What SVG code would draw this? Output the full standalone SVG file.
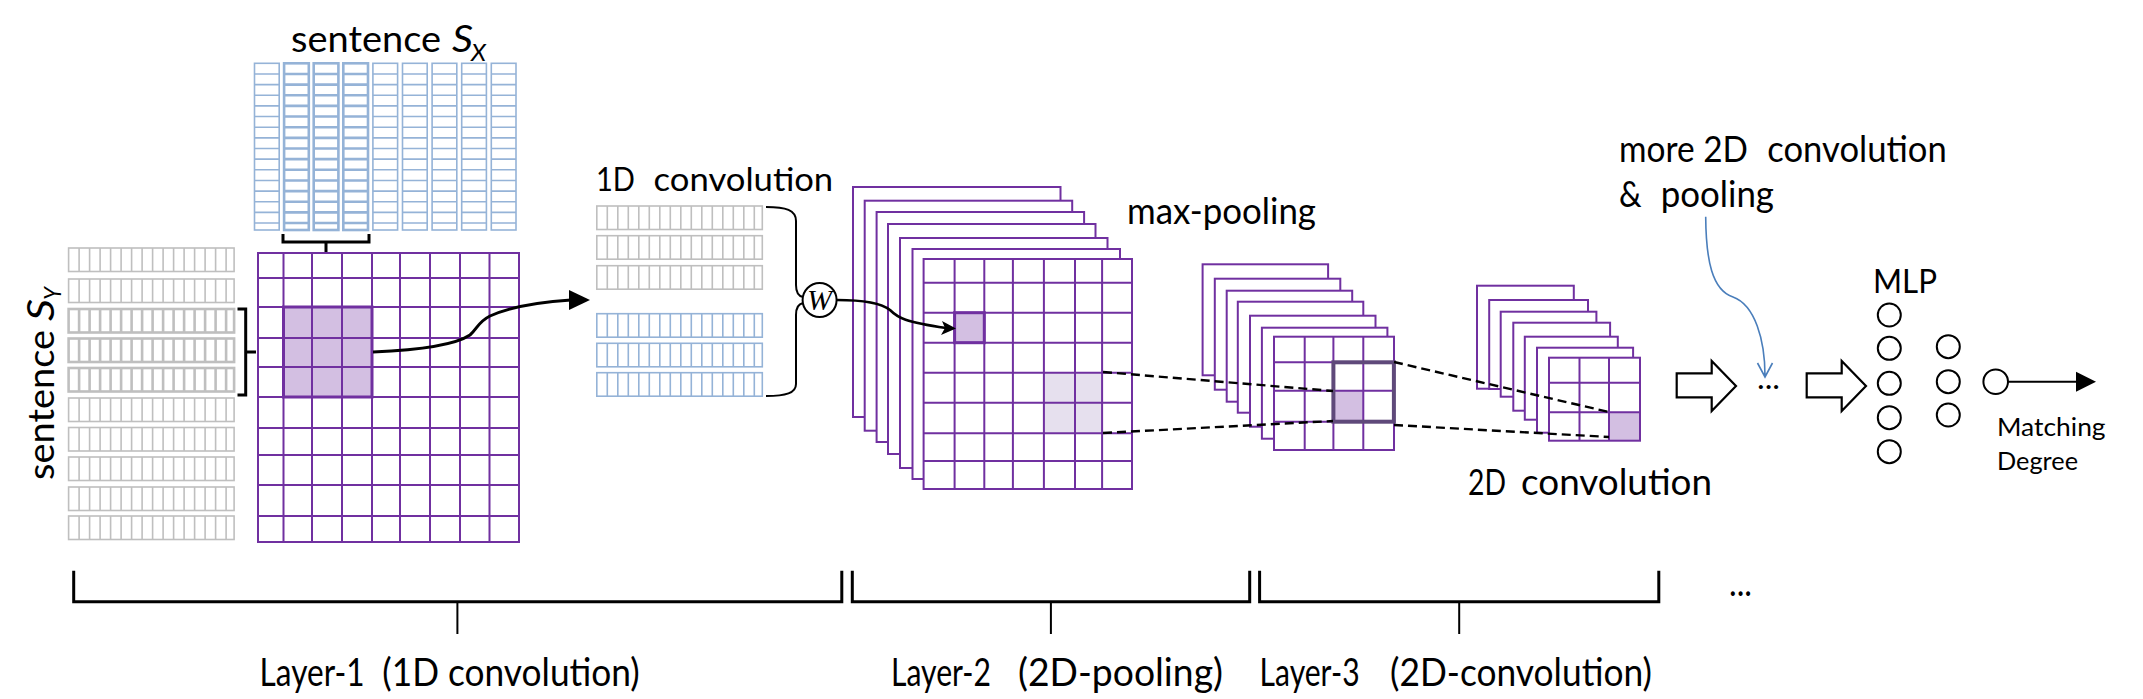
<svg xmlns="http://www.w3.org/2000/svg" xmlns:xlink="http://www.w3.org/1999/xlink" width="2143" height="699" viewBox="0 0 2143 699">
<style>
.t{font-family:Lato,"Open Sans","Liberation Sans",sans-serif;fill:#000}
.it{font-style:italic}
.pu{fill:none;stroke:#7030A0;stroke-width:2}
.puw{fill:#fff;stroke:#7030A0;stroke-width:2}
.bl{fill:none;stroke:#95B3D7;stroke-width:1.6}
.blh{fill:none;stroke:#95B3D7;stroke-width:2.6}
.gr{fill:none;stroke:#BFBFBF;stroke-width:1.6}
.grh{fill:none;stroke:#BFBFBF;stroke-width:2.6}
.blk{fill:none;stroke:#000;stroke-width:3}
.thin{fill:none;stroke:#000;stroke-width:2}
.dash{fill:none;stroke:#000;stroke-width:2.4;stroke-dasharray:9 5}
.hl{fill:#D3BFE2}
.hl2{fill:#E6E0EE}
.blockarrow{fill:#fff;stroke:#000;stroke-width:2.2}
.node{fill:#fff;stroke:#000;stroke-width:2}
</style>
<defs>
<g id="bcol"><rect x="0" y="0" width="24.7" height="166.7"/><path d="M0,10.65H24.7M0,21.3H24.7M0,31.95H24.7M0,42.6H24.7M0,53.25H24.7M0,63.9H24.7M0,74.55H24.7M0,85.2H24.7M0,95.85H24.7M0,106.5H24.7M0,117.15H24.7M0,127.8H24.7M0,138.45H24.7M0,149.1H24.7M0,159.75H24.7"/></g>
<g id="row"><rect x="0" y="0" width="165.5" height="23.5"/><path d="M10.5,0V23.5M21,0V23.5M31.5,0V23.5M42,0V23.5M52.5,0V23.5M63,0V23.5M73.5,0V23.5M84,0V23.5M94.5,0V23.5M105,0V23.5M115.5,0V23.5M126,0V23.5M136.5,0V23.5M147,0V23.5M157.5,0V23.5"/></g>
</defs>

<g id="sentence-x">
<text class="t" x="291" y="52" font-size="36" textLength="150" lengthAdjust="spacingAndGlyphs">sentence</text>
<text class="t it" x="452" y="52" font-size="36" textLength="21" lengthAdjust="spacingAndGlyphs">S</text>
<text class="t it" x="471" y="61" font-size="23" textLength="15" lengthAdjust="spacingAndGlyphs">X</text>
<use xlink:href="#bcol" class="bl" x="254.5" y="63.3"/>
<use xlink:href="#bcol" class="blh" x="284.1" y="63.3"/>
<use xlink:href="#bcol" class="blh" x="313.7" y="63.3"/>
<use xlink:href="#bcol" class="blh" x="343.3" y="63.3"/>
<use xlink:href="#bcol" class="bl" x="372.9" y="63.3"/>
<use xlink:href="#bcol" class="bl" x="402.5" y="63.3"/>
<use xlink:href="#bcol" class="bl" x="432.1" y="63.3"/>
<use xlink:href="#bcol" class="bl" x="461.7" y="63.3"/>
<use xlink:href="#bcol" class="bl" x="491.3" y="63.3"/>
<path class="blk" d="M283,234V242H369V234M326,242V252"/>
</g>

<g id="sentence-y">
<g transform="translate(53.6,480) rotate(-90)">
<text class="t" x="0" y="0" font-size="36" textLength="150" lengthAdjust="spacingAndGlyphs">sentence</text>
<text class="t it" x="159" y="0" font-size="36" textLength="22" lengthAdjust="spacingAndGlyphs">S</text>
<text class="t it" x="180" y="7" font-size="23" textLength="13" lengthAdjust="spacingAndGlyphs">Y</text>
</g>
<use xlink:href="#row" class="gr" x="68.6" y="248"/>
<use xlink:href="#row" class="gr" x="68.6" y="279"/>
<use xlink:href="#row" class="grh" x="68.6" y="309"/>
<use xlink:href="#row" class="grh" x="68.6" y="338.5"/>
<use xlink:href="#row" class="grh" x="68.6" y="368"/>
<use xlink:href="#row" class="gr" x="68.6" y="398"/>
<use xlink:href="#row" class="gr" x="68.6" y="427.5"/>
<use xlink:href="#row" class="gr" x="68.6" y="457"/>
<use xlink:href="#row" class="gr" x="68.6" y="487"/>
<use xlink:href="#row" class="gr" x="68.6" y="516"/>
<path class="blk" d="M237.5,309H245.7V395H237.5M245.7,352H256"/>
</g>

<g id="layer1-matrix">
<rect class="hl" x="283.5" y="307" width="88.5" height="90"/>
<rect class="pu" x="258" y="253" width="261" height="289"/>
<path class="pu" d="M283.5,253V542M312,253V542M342,253V542M372,253V542M400,253V542M430,253V542M460,253V542M489.5,253V542M258,278H519M258,307H519M258,338H519M258,367H519M258,397H519M258,428H519M258,455H519M258,485H519M258,516H519"/>
<rect x="283.5" y="307" width="88.5" height="90" fill="none" stroke="#7030A0" stroke-width="3"/>
</g>

<g id="conv1d">
<text class="t" x="596" y="190.7" font-size="33" textLength="39" lengthAdjust="spacingAndGlyphs">1D</text>
<text class="t" x="653.6" y="190.7" font-size="33" textLength="179.6" lengthAdjust="spacingAndGlyphs">convolution</text>
<use xlink:href="#row" class="gr" x="596.8" y="206"/>
<use xlink:href="#row" class="gr" x="596.8" y="235.7"/>
<use xlink:href="#row" class="gr" x="596.8" y="265.7"/>
<use xlink:href="#row" class="bl" x="596.8" y="313.7"/>
<use xlink:href="#row" class="bl" x="596.8" y="343.3"/>
<use xlink:href="#row" class="bl" x="596.8" y="372.7"/>
<path class="thin" d="M766,207C786,207 796,210 796,221V285C796,292 798,296 803,297M803,303C798,304 796,308 796,315V384C796,393 786,396 766,396"/>
</g>

<g id="weight-w">
<circle class="node" cx="819.6" cy="300" r="17"/>
<text x="819.6" y="310" font-family="'Liberation Serif',serif" font-style="italic" font-size="30" text-anchor="middle">W</text>
</g>

<g id="layer2-maps">
<rect class="puw" x="853" y="187" width="207.5" height="230"/>
<rect class="puw" x="864.7" y="200.7" width="207.5" height="230"/>
<rect class="puw" x="876.6" y="212" width="207.5" height="230"/>
<rect class="puw" x="888" y="224" width="207.5" height="230"/>
<rect class="puw" x="900" y="238" width="207.5" height="230"/>
<rect class="puw" x="912.5" y="249" width="207.5" height="230"/>
<rect fill="#fff" x="923.6" y="259" width="208.4" height="230"/>
<rect class="hl" x="954.6" y="312.7" width="29.7" height="30"/>
<rect class="hl2" x="1043.9" y="372.7" width="58.2" height="60.6"/>
<rect class="pu" x="923.6" y="259" width="208.4" height="230"/>
<path class="pu" d="M954.6,259V489M984.3,259V489M1012.9,259V489M1043.9,259V489M1075,259V489M1102.1,259V489M923.6,282.7H1132M923.6,312.7H1132M923.6,342.7H1132M923.6,372.7H1132M923.6,402.7H1132M923.6,433.3H1132M923.6,461H1132"/>
<rect x="954.6" y="312.7" width="29.7" height="30" fill="none" stroke="#7030A0" stroke-width="3"/>
<text class="t" x="1127" y="224" font-size="36" textLength="189" lengthAdjust="spacingAndGlyphs">max-pooling</text>
</g>

<g id="layer3-maps">
<rect class="puw" x="1202.6" y="264.3" width="125.5" height="111"/>
<rect class="puw" x="1214.8" y="278.7" width="125.5" height="111"/>
<rect class="puw" x="1226.7" y="290.7" width="125.5" height="111"/>
<rect class="puw" x="1237.8" y="301.7" width="125.5" height="111"/>
<rect class="puw" x="1250" y="315.7" width="125.5" height="111"/>
<rect class="puw" x="1261.9" y="327.7" width="125.5" height="111"/>
<rect fill="#fff" x="1274" y="336.7" width="120" height="113.3"/>
<rect class="hl" x="1333.4" y="390.7" width="29.9" height="31"/>
<rect class="pu" x="1274" y="336.7" width="120" height="113.3"/>
<path class="pu" d="M1304.7,336.7V450M1333.4,336.7V450M1363.3,336.7V450M1274,362.3H1394M1274,390.7H1394M1274,421.7H1394"/>
<rect x="1333.4" y="362.3" width="60.5" height="59.4" fill="none" stroke="#5F497A" stroke-width="4"/>
</g>

<g id="layer4-maps">
<rect class="puw" x="1477" y="285.7" width="96.8" height="103"/>
<rect class="puw" x="1489.2" y="300" width="98.8" height="89"/>
<rect class="puw" x="1500.7" y="311.7" width="95.7" height="85"/>
<rect class="puw" x="1513.3" y="322.7" width="96.8" height="88"/>
<rect class="puw" x="1524.8" y="336.7" width="93" height="83"/>
<rect class="puw" x="1537" y="347.7" width="96.1" height="85"/>
<rect fill="#fff" x="1549" y="357.7" width="91" height="83"/>
<rect class="hl" x="1609" y="412.3" width="31" height="28.4"/>
<rect class="pu" x="1549" y="357.7" width="91" height="83"/>
<path class="pu" d="M1579.5,357.7V440.7M1609,357.7V440.7M1549,382.7H1640M1549,412.3H1640"/>
<text class="t" x="1468" y="495" font-size="36" textLength="38" lengthAdjust="spacingAndGlyphs">2D</text>
<text class="t" x="1521" y="495" font-size="36" textLength="191" lengthAdjust="spacingAndGlyphs">convolution</text>
</g>

<g id="more-note">
<text class="t" x="1619" y="162" font-size="36" textLength="129" lengthAdjust="spacingAndGlyphs">more 2D</text>
<text class="t" x="1767.3" y="162" font-size="36" textLength="179.4" lengthAdjust="spacingAndGlyphs">convolution</text>
<text class="t" x="1619" y="207" font-size="36" textLength="22.6" lengthAdjust="spacingAndGlyphs">&amp;</text>
<text class="t" x="1660.7" y="207" font-size="36" textLength="113.3" lengthAdjust="spacingAndGlyphs">pooling</text>
</g>

<g id="ellipsis-mid">
<text class="t" x="1757" y="389" font-size="30" textLength="23" lengthAdjust="spacingAndGlyphs">...</text>
</g>

<g id="mlp">
<text class="t" x="1873" y="293" font-size="32" textLength="64" lengthAdjust="spacingAndGlyphs">MLP</text>
<circle class="node" cx="1889.3" cy="315" r="11.5"/>
<circle class="node" cx="1889.3" cy="348.3" r="11.5"/>
<circle class="node" cx="1889.3" cy="383.3" r="11.5"/>
<circle class="node" cx="1889.3" cy="417.7" r="11.5"/>
<circle class="node" cx="1889.3" cy="451.7" r="11.5"/>
<circle class="node" cx="1948.3" cy="346.7" r="11.5"/>
<circle class="node" cx="1948.3" cy="381.7" r="11.5"/>
<circle class="node" cx="1948.3" cy="415" r="11.5"/>
</g>

<g id="output">
<circle class="node" cx="1995.7" cy="381.7" r="12.3"/>
<text class="t" x="1997" y="436" font-size="25" textLength="108.6" lengthAdjust="spacingAndGlyphs">Matching</text>
<text class="t" x="1997" y="470" font-size="25" textLength="81" lengthAdjust="spacingAndGlyphs">Degree</text>
</g>

<g id="layer-brackets">
<path class="blk" d="M73.7,570.7V601.7H841.8V570.7"/>
<path class="thin" d="M457.4,601.7V634"/>
<path class="blk" d="M852.3,570.7V601.7H1249.7V570.7"/>
<path class="thin" d="M1050.9,601.7V634"/>
<path class="blk" d="M1259.6,570.7V601.7H1658.8V570.7"/>
<path class="thin" d="M1459.2,601.7V634"/>
<text class="t" x="1729" y="596" font-size="36" textLength="23" lengthAdjust="spacingAndGlyphs">...</text>
<text class="t" x="259.6" y="686" font-size="38" textLength="105" lengthAdjust="spacingAndGlyphs">Layer-1</text>
<text class="t" x="382.3" y="686" font-size="38" textLength="257.5" lengthAdjust="spacingAndGlyphs">(1D convolution)</text>
<text class="t" x="891" y="686" font-size="38" textLength="100" lengthAdjust="spacingAndGlyphs">Layer-2</text>
<text class="t" x="1018" y="686" font-size="38" textLength="205" lengthAdjust="spacingAndGlyphs">(2D-pooling)</text>
<text class="t" x="1259.6" y="686" font-size="38" textLength="100" lengthAdjust="spacingAndGlyphs">Layer-3</text>
<text class="t" x="1390" y="686" font-size="38" textLength="262" lengthAdjust="spacingAndGlyphs">(2D-convolution)</text>
</g>

<g id="connectors">
<path class="blk" d="M373,352C420,350 455,345 470,335C478,328 478,322 490,316C510,307 540,302 571,300"/>
<polygon points="590,300 569,290 569,310" fill="#000"/>
<path fill="none" stroke="#000" stroke-width="2.6" d="M837,300C860,300 880,302 890,310C898,318 905,322 946,328"/>
<polygon points="956,328.5 942,321 945,328 941,335" fill="#000"/>
<path class="dash" d="M1103,372L1333,391M1103,433L1333,421"/>
<path class="dash" d="M1394,362L1609,412M1394,425L1609,437"/>
<polygon class="blockarrow" points="1676.7,373.3 1711.7,373.3 1711.7,361 1736,386 1711.7,411 1711.7,397.3 1676.7,397.3"/>
<polygon class="blockarrow" points="1806.7,373.3 1841.7,373.3 1841.7,361 1866,386 1841.7,411 1841.7,397.3 1806.7,397.3"/>
<path fill="none" stroke="#4A7EBB" stroke-width="1.6" d="M1705.7,216.7C1706,260 1712,290 1733,297C1755,305 1765,340 1765,376M1757.5,363L1765,377L1772.5,363"/>
<path class="thin" d="M2008,381.7H2078"/>
<polygon points="2096,381.7 2076,371.7 2076,391.7" fill="#000"/>
</g>
</svg>
